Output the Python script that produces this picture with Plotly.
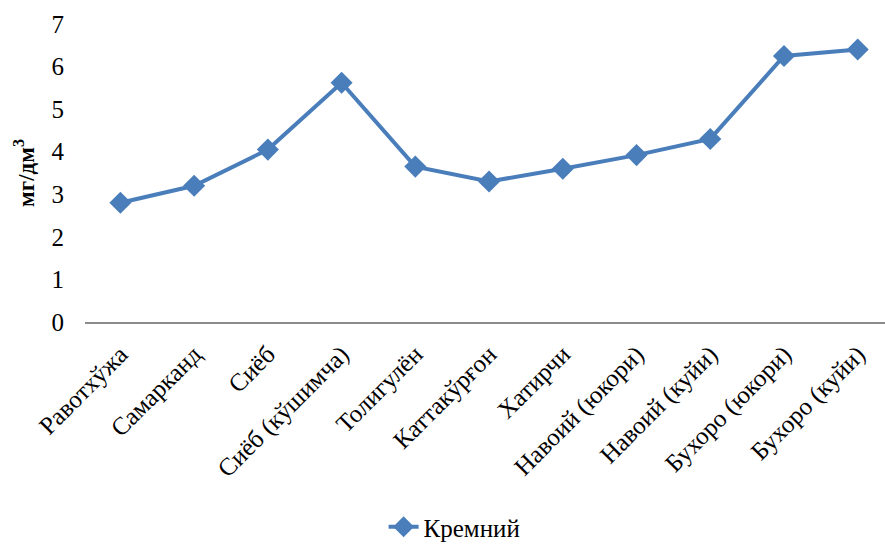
import plotly.graph_objects as go

categories = ["Равотхўжа", "Самарканд", "Сиёб", "Сиёб (кўшимча)", "Толигулён",
              "Каттакўрғон", "Хатирчи", "Навоий (юкори)", "Навоий (куйи)",
              "Бухоро (юкори)", "Бухоро (куйи)"]
silicon = [2.8, 3.2, 4.05, 5.62, 3.65, 3.3, 3.6, 3.92, 4.3, 6.25, 6.4]
y_ticks = [0, 1, 2, 3, 4, 5, 6, 7]
series_name = "Кремний"
y_title = "мг/дм<sup>3</sup>"

color = "#4A7EBB"
font_family = "Liberation Serif"

fig = go.Figure()
fig.add_trace(go.Scatter(
    x=list(range(len(categories))), y=silicon, name=series_name,
    mode="lines+markers",
    line=dict(color=color, width=4),
    marker=dict(symbol="diamond", size=17, color=color),
))

fig.update_layout(
    width=885, height=550,
    margin=dict(l=85, r=0, t=24, b=224),
    paper_bgcolor="white", plot_bgcolor="white",
    font=dict(family=font_family, size=24, color="#000000"),
    showlegend=True,
    legend=dict(orientation="h", x=0.462, xanchor="center", y=-0.69, yanchor="middle",
                font=dict(family=font_family, size=25)),
    xaxis=dict(
        tickmode="array", tickvals=list(range(len(categories))), ticktext=categories,
        range=[-0.48, 10.37], tickangle=-45, showgrid=False, zeroline=False,
        showline=True, linecolor="#8C8C8C", linewidth=1.5, ticks="",
        tickfont=dict(family=font_family, size=25), fixedrange=True,
        ticklabelstandoff=6,
    ),
    yaxis=dict(
        range=[0, 7], tickvals=y_ticks, showgrid=False, zeroline=False,
        showline=False, ticks="", tickfont=dict(family=font_family, size=25),
        title=dict(text=y_title, font=dict(family=font_family, size=23, weight="bold"),
                   standoff=10),
        ticklabelstandoff=20,
    ),
)

fig.write_html("out.html")
